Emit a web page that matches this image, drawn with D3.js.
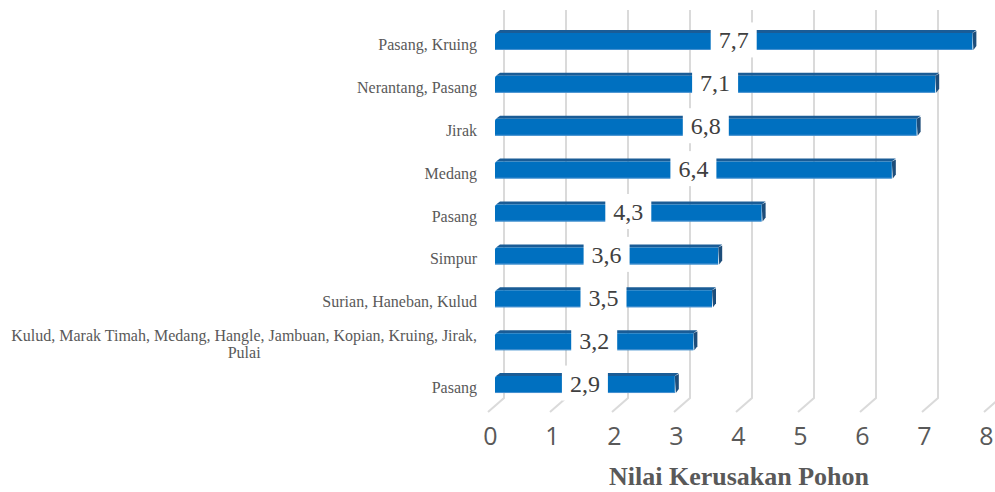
<!DOCTYPE html>
<html>
<head>
    <meta charset="utf-8">
    <script src="https://d3js.org/d3.v7.min.js"></script>
    <style>
        body { margin: 0; background: #fff; }
        svg { display: block; }
        .serif { font-family: "Liberation Serif", "Times New Roman", Tinos, "DejaVu Serif", serif; }
    </style>
</head>
<body>
<script>
    "use strict";
    // Data, top bar first
    var categories = [
        "Pasang, Kruing",
        "Nerantang, Pasang",
        "Jirak",
        "Medang",
        "Pasang",
        "Simpur",
        "Surian, Haneban, Kulud",
        "Kulud, Marak Timah, Medang, Hangle, Jambuan, Kopian, Kruing, Jirak, Pulai",
        "Pasang"
    ];
    var values = [7.7, 7.1, 6.8, 6.4, 4.3, 3.6, 3.5, 3.2, 2.9];
    var xTicks = [0, 1, 2, 3, 4, 5, 6, 7, 8];
    var axisTitle = "Nilai Kerusakan Pohon";

    var width = 995, height = 492;
    var svg = d3.select("body").append("svg")
        .attr("width", width)
        .attr("height", height);

    var x = d3.scaleLinear().domain([0, 8]).range([489, 985]);
    var y = d3.scaleBand().domain(d3.range(categories.length)).range([20, 406]);

    var comma = d3.formatLocale({decimal: ",", thousands: ".", grouping: [3], currency: ["", ""]}).format(".1f");

    // back wall offset and bar depth
    var wallDx = 15, wallDy = -14;
    var backTop = 10, backBottom = 398;
    var barDx = 4, barDy = -3, barH = 17, barShift = 6;

    // gridlines: back wall vertical + floor diagonal
    var grid = svg.append("g");
    xTicks.forEach(function(t) {
        var bx = x(t) + wallDx;
        grid.append("path")
            .attr("d", "M" + bx + "," + backTop + "V" + backBottom + "L" + (x(t) - 1) + "," + (backBottom - wallDy))
            .attr("fill", "none")
            .attr("stroke", "#dadada")
            .attr("stroke-width", 2);
    });

    // bars
    var bars = svg.append("g");
    values.forEach(function(v, i) {
        var cy = y(i) + y.bandwidth() / 2;
        var x0 = x(0) + barShift, x1 = x(v) + barShift;
        var yt = cy - barH / 2, yb = cy + barH / 2;
        var g = bars.append("g");
        // top face
        g.append("path")
            .attr("d", "M" + (x0 + 1) + "," + yt + "L" + (x0 + barDx + 1) + "," + (yt + barDy) +
                "L" + (x1 + barDx) + "," + (yt + barDy) + "L" + x1 + "," + yt + "Z")
            .attr("fill", "#1a5c96");
        // right face
        g.append("path")
            .attr("d", "M" + x1 + "," + yt + "L" + (x1 + barDx) + "," + (yt + barDy + 1) +
                "L" + (x1 + barDx) + "," + (yb + barDy - 1) + "L" + (x1 + 1) + "," + yb + "Z")
            .attr("fill", "#1d4d7a");
        // front face
        g.append("path")
            .attr("d", "M" + x0 + "," + (yt + 2) + "Q" + x0 + "," + yt + " " + (x0 + 2) + "," + yt +
                "H" + x1 + "V" + yb + "H" + x0 + "Z")
            .attr("fill", "#0070c0");
        g.append("line")
            .attr("x1", x0).attr("x2", x1)
            .attr("y1", yb - 0.5).attr("y2", yb - 0.5)
            .attr("stroke", "#5b9bd5")
            .attr("stroke-width", 1)
            .attr("opacity", 0.8);
    });

    // value labels with white box
    var labels = svg.append("g");
    values.forEach(function(v, i) {
        var cy = y(i) + y.bandwidth() / 2;
        var cx = (x(0) + x(v)) / 2 + barShift;
        labels.append("rect")
            .attr("x", cx - 23)
            .attr("y", cy - 19)
            .attr("width", 46)
            .attr("height", 35)
            .attr("fill", "#fff");
        labels.append("text")
            .attr("class", "serif")
            .attr("x", cx)
            .attr("y", cy + 7)
            .attr("text-anchor", "middle")
            .style("font-size", "24px")
            .style("fill", "#404040")
            .text(comma(v));
    });

    // category labels
    var cat = svg.append("g");
    categories.forEach(function(c, i) {
        var cy = y(i) + y.bandwidth() / 2;
        var t = cat.append("text")
            .attr("class", "serif")
            .attr("y", cy + 3)
            .attr("text-anchor", "end")
            .style("font-size", "16px")
            .style("fill", "#595959");
        t.append("tspan").attr("x", 477).attr("dy", "0.35em").text(c);
        // wrap long labels onto a second, centred line
        if (t.node().getComputedTextLength() > 470) {
            t.text(null);
            var words = c.split(" ");
            var last = words.pop();
            var first = words.join(" ");
            var t1 = t.append("tspan").attr("x", 477).attr("dy", "-0.25em").text(first);
            var w1 = t1.node().getComputedTextLength();
            t.append("tspan")
                .attr("x", 477 - w1 / 2)
                .attr("dy", "1.1em")
                .attr("text-anchor", "middle")
                .text(last);
        }
    });

    // x axis tick labels
    var xAxis = d3.axisBottom(x).tickValues(xTicks).tickSize(0).tickPadding(0);
    var ax = svg.append("g")
        .attr("transform", "translate(1,427)")
        .call(xAxis);
    ax.select(".domain").remove();
    ax.selectAll("text")
        .attr("font-family", "'Open Sans', sans-serif")
        .attr("font-size", 25)
        .style("font-weight", "400")
        .style("fill", "#595959");

    // axis title
    svg.append("text")
        .attr("class", "serif")
        .attr("x", 739)
        .attr("y", 485)
        .attr("text-anchor", "middle")
        .style("font-weight", "bold")
        .style("font-size", "26px")
        .style("fill", "#595959")
        .text(axisTitle);
</script>
</body>
</html>
